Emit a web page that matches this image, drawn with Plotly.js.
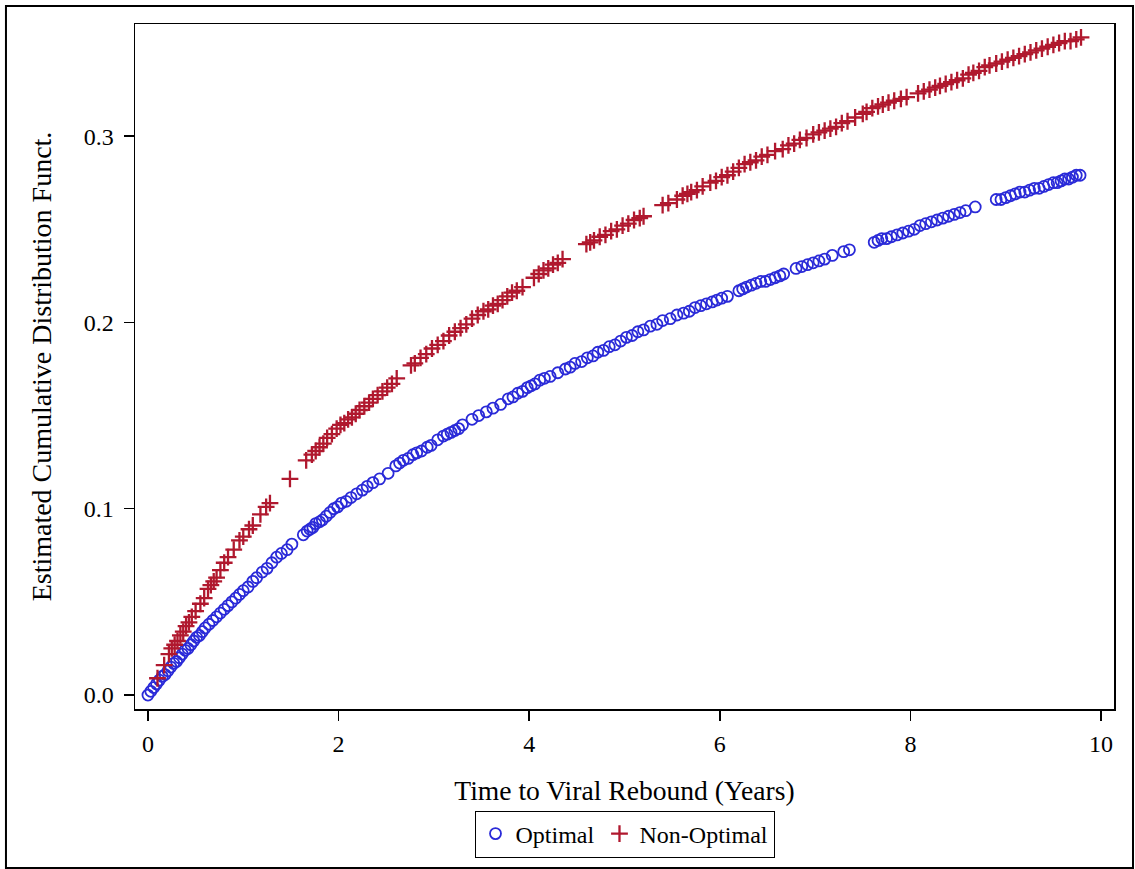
<!DOCTYPE html>
<html>
<head>
<meta charset="utf-8">
<script src="https://cdn.plot.ly/plotly-3.0.1.min.js"></script>
<style>html,body{margin:0;padding:0;background:#fff;}#chart{width:1135px;height:869px;}</style>
</head>
<body>
<div id="chart"></div>
<script>
// Optimal series (time in years, estimated CDF)
const optimalX = [0.00,0.03,0.06,0.09,0.12,0.15,0.18,0.21,0.24,0.27,0.30,0.33,0.36,0.39,0.42,0.45,0.48,0.51,0.54,0.57,0.60,0.64,0.68,0.72,0.76,0.80,0.84,0.88,0.92,0.96,1.00,
  1.05,1.10,1.14,1.20,1.25,1.30,1.35,1.40,1.46,1.51,
  1.63,1.67,1.70,1.73,1.76,1.80,1.83,1.87,1.91,1.95,1.99,2.03,2.08,2.13,2.19,2.25,2.30,2.36,2.43,
  2.52,2.60,2.64,2.68,2.73,2.78,2.82,2.87,2.93,2.97,
  3.04,3.10,3.14,3.18,3.22,3.26,3.30,
  3.40,3.47,3.55,3.62,3.70,3.78,3.83,3.88,3.93,3.98,4.02,4.06,4.11,4.16,4.22,4.30,
  4.38,4.43,4.48,4.55,4.61,4.67,4.72,4.78,4.84,4.90,4.96,5.02,5.08,5.14,5.20,5.27,5.34,5.40,5.48,5.55,5.62,5.68,5.74,5.80,5.86,5.92,5.97,6.02,6.08,
  6.20,6.24,6.28,6.33,6.38,6.43,6.48,6.53,6.58,6.63,6.67,
  6.80,6.86,6.92,6.98,7.04,7.10,7.18,7.30,7.36,
  7.62,7.66,7.70,7.75,7.80,7.86,7.92,7.98,8.04,8.10,8.16,8.22,8.28,8.34,8.40,8.46,8.52,8.58,8.68,
  8.90,8.95,9.00,9.05,9.10,9.15,9.20,9.25,9.30,9.35,9.40,9.45,9.50,9.54,9.58,9.62,9.66,9.70,9.74,9.78];
const optimalY = [0.000,0.002,0.004,0.006,0.008,0.010,0.011,0.013,0.015,0.017,0.018,0.020,0.022,0.024,0.025,0.027,0.029,0.031,0.032,0.034,0.036,0.038,0.040,0.042,0.044,0.046,0.048,0.050,0.052,0.054,0.056,
  0.058,0.061,0.063,0.066,0.068,0.071,0.074,0.076,0.078,0.081,
  0.086,0.088,0.089,0.090,0.092,0.093,0.094,0.096,0.098,0.100,0.101,0.103,0.104,0.106,0.108,0.110,0.112,0.114,0.116,
  0.119,0.123,0.1245,0.126,0.127,0.129,0.130,0.131,0.133,0.134,
  0.137,0.139,0.140,0.141,0.142,0.143,0.145,
  0.148,0.150,0.152,0.154,0.156,0.159,0.160,0.162,0.163,0.165,0.166,0.167,0.169,0.170,0.171,0.173,
  0.175,0.176,0.178,0.179,0.181,0.182,0.184,0.185,0.187,0.188,0.190,0.192,0.193,0.195,0.196,0.198,0.199,0.201,0.202,0.204,0.205,0.206,0.208,0.209,0.210,0.211,0.212,0.213,0.214,
  0.217,0.218,0.219,0.220,0.221,0.222,0.222,0.223,0.224,0.225,0.226,
  0.229,0.230,0.231,0.232,0.233,0.234,0.236,0.238,0.239,
  0.243,0.244,0.245,0.245,0.246,0.247,0.248,0.249,0.250,0.252,0.253,0.254,0.255,0.256,0.257,0.258,0.259,0.260,0.262,
  0.266,0.266,0.267,0.268,0.269,0.270,0.270,0.271,0.272,0.272,0.273,0.274,0.275,0.275,0.276,0.277,0.277,0.278,0.279,0.279];

// Non-Optimal series
const nonOptimalX = [0.10,0.17,0.22,0.25,0.28,0.31,0.34,0.37,0.40,0.43,0.46,0.50,0.55,0.59,0.63,0.66,0.69,0.72,0.76,0.80,0.84,0.90,0.96,1.00,1.06,1.10,1.18,1.24,1.28,
  1.49,
  1.66,1.72,1.76,1.80,1.84,1.88,1.93,1.98,2.02,2.06,2.10,2.14,2.18,2.22,2.27,2.32,2.36,2.41,2.46,2.51,2.56,2.61,
  2.76,2.80,2.86,2.92,2.98,3.04,3.10,3.16,3.22,3.28,3.34,3.40,3.46,3.52,3.57,3.62,3.67,3.72,3.77,3.82,3.87,3.93,
  4.05,4.10,4.15,4.20,4.25,4.30,4.35,
  4.60,4.64,4.68,4.74,4.80,4.86,4.92,4.98,5.04,5.10,5.16,5.20,
  5.40,5.46,5.55,5.61,5.66,5.70,5.76,5.82,5.90,5.96,6.02,6.08,6.14,6.20,6.26,6.32,6.38,6.44,6.50,6.58,6.66,6.72,6.78,6.84,6.91,6.98,7.04,7.10,7.16,7.22,7.28,7.34,7.42,7.50,7.54,7.60,7.66,7.71,7.77,7.83,7.90,7.96,
  8.08,8.14,8.20,8.26,8.31,8.37,8.43,8.49,8.55,8.61,8.66,8.72,8.78,8.83,8.90,8.96,9.02,9.08,9.14,9.20,9.26,9.32,9.38,9.44,9.50,9.56,9.62,9.68,9.74,9.79];
const nonOptimalY = [0.009,0.016,0.022,0.025,0.027,0.029,0.032,0.034,0.037,0.039,0.042,0.045,0.049,0.052,0.057,0.059,0.061,0.063,0.067,0.071,0.074,0.078,0.083,0.085,0.089,0.091,0.097,0.101,0.103,
  0.116,
  0.126,0.129,0.131,0.133,0.135,0.138,0.140,0.143,0.145,0.146,0.148,0.149,0.151,0.153,0.155,0.157,0.159,0.161,0.163,0.165,0.167,0.170,
  0.177,0.178,0.181,0.183,0.186,0.188,0.190,0.193,0.195,0.197,0.199,0.202,0.204,0.206,0.207,0.209,0.210,0.212,0.214,0.216,0.217,0.219,
  0.224,0.226,0.228,0.229,0.231,0.232,0.234,
  0.242,0.243,0.244,0.246,0.247,0.249,0.250,0.252,0.253,0.255,0.256,0.257,
  0.263,0.264,0.266,0.268,0.269,0.270,0.271,0.273,0.275,0.276,0.278,0.279,0.281,0.283,0.285,0.286,0.287,0.289,0.290,0.292,0.293,0.295,0.296,0.298,0.299,0.301,0.302,0.303,0.304,0.305,0.307,0.308,0.310,0.312,0.313,0.315,0.316,0.317,0.318,0.319,0.320,0.321,
  0.323,0.324,0.325,0.326,0.327,0.328,0.329,0.330,0.331,0.333,0.334,0.335,0.337,0.338,0.339,0.340,0.341,0.342,0.343,0.344,0.345,0.346,0.347,0.348,0.349,0.350,0.351,0.351,0.352,0.353];

const xTicks = [0, 2, 4, 6, 8, 10];
const yTicks = [0.0, 0.1, 0.2, 0.3];
const seriesNames = ["Optimal", "Non-Optimal"];
const xTitle = "Time to Viral Rebound (Years)";
const yTitle = "Estimated Cumulative Distribution Funct.";

const FONT = '"Liberation Serif", "Times New Roman", Times, serif';
const BLUE = "#2a2ad8";
const RED = "#b0182e";

const traces = [
  {x: optimalX, y: optimalY, name: seriesNames[0], type: "scatter", mode: "markers",
   marker: {symbol: "circle-open", size: 11, color: BLUE, line: {width: 1.8, color: BLUE}}},
  {x: nonOptimalX, y: nonOptimalY, name: seriesNames[1], type: "scatter", mode: "markers",
   marker: {symbol: "cross-thin-open", size: 12, color: RED, line: {width: 2.3, color: RED}}}
];

const layout = {
  width: 1135, height: 869,
  margin: {l: 135, r: 21, t: 24, b: 160},
  paper_bgcolor: "#fff", plot_bgcolor: "#fff",
  font: {family: FONT, size: 24, color: "#000"},
  showlegend: true,
  legend: {orientation: "h", x: 0.5, xanchor: "center", y: -0.1825, yanchor: "middle",
           bordercolor: "#000", borderwidth: 1, font: {family: FONT, size: 24, color: "#000"},
           itemwidth: 30, tracegroupgap: 0},
  xaxis: {range: [-0.136, 10.136], tickvals: xTicks, ticktext: xTicks.map(String),
          ticks: "outside", ticklen: 10, tickwidth: 1.5, tickcolor: "#000",
          showline: true, mirror: true, linecolor: "#000", linewidth: 1.5,
          showgrid: false, zeroline: false, tickfont: {family: FONT, size: 24},
          ticklabelstandoff: 3,
          title: {text: xTitle, font: {family: FONT, size: 27.6}, standoff: 24}},
  yaxis: {range: [-0.0075, 0.3602], tickvals: yTicks, ticktext: yTicks.map(v => v.toFixed(1)),
          ticks: "outside", ticklen: 10, tickwidth: 1.5, tickcolor: "#000",
          showline: true, mirror: true, linecolor: "#000", linewidth: 1.5,
          showgrid: false, zeroline: false, tickfont: {family: FONT, size: 24},
          ticklabelstandoff: 5,
          title: {text: yTitle, font: {family: FONT, size: 28}, standoff: 24}},
  shapes: [{type: "rect", xref: "paper", yref: "paper",
            x0: -0.1318, x1: 1.0194, y0: -0.2321, y1: 1.0263,
            line: {color: "#000", width: 2}, fillcolor: "rgba(0,0,0,0)", layer: "below"}]
};

Plotly.newPlot("chart", traces, layout, {displayModeBar: false, staticPlot: true});
</script>
</body>
</html>
